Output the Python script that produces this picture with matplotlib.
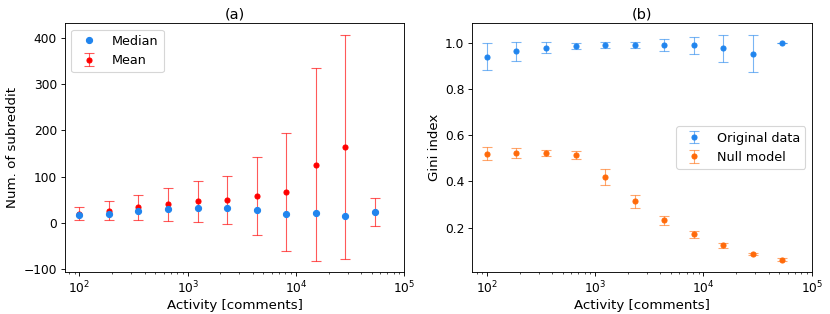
import numpy as np
import matplotlib.pyplot as plt

# activity bins (comments)
activity = [100, 187, 351, 658, 1233, 2310, 4329, 8111, 15199, 28480, 53367]

# panel (a)
median = [16.5, 20, 26, 29.5, 33, 33, 29, 20, 22, 14, 24]
mean = [20, 26.5, 33.5, 40.7, 47, 50, 58, 66.7, 126, 164.5, 24]
mean_err = [14.5, 20.5, 27.5, 35.7, 44, 52, 85, 127, 208, 242.5, 31]

# panel (b)
gini_orig = [0.940, 0.962, 0.979, 0.987, 0.990, 0.991, 0.990, 0.989, 0.975, 0.953, 1.000]
gini_orig_err = [0.060, 0.040, 0.024, 0.013, 0.013, 0.013, 0.027, 0.037, 0.060, 0.082, 0.0]
gini_null = [0.520, 0.522, 0.523, 0.514, 0.418, 0.313, 0.232, 0.171, 0.123, 0.085, 0.062]
gini_null_err = [0.028, 0.021, 0.014, 0.019, 0.034, 0.027, 0.020, 0.014, 0.010, 0.005, 0.006]

blue = '#2185ee'
orange = '#ff6a0a'

plt.rcParams['font.size'] = 11
plt.rcParams['axes.labelsize'] = 12
plt.rcParams['axes.titlesize'] = 13
plt.rcParams['legend.fontsize'] = 11.5

fig = plt.figure(figsize=(830 / 80, 314 / 80), dpi=80)
ax1 = fig.add_axes([0.078, 0.133, 0.409, 0.793])
ax2 = fig.add_axes([0.569, 0.133, 0.409, 0.793])

# (a)
ax1.errorbar(activity, mean, yerr=mean_err, fmt='o', color='red', ms=4.5,
             ecolor=(1, 0, 0, 0.65), elinewidth=1, capsize=4.5, label='Mean')
ax1.plot(activity, median, 'o', color=blue, ms=5.5, label='Median', zorder=3)
ax1.set_xscale('log')
ax1.set_xlim(73.1, 1e5)
ax1.set_xlabel('Activity [comments]', labelpad=2)
ax1.set_ylabel('Num. of subreddit')
ax1.set_title('(a)', pad=4)
ax1.legend(loc='upper left')

# (b)
ax2.errorbar(activity, gini_orig, yerr=gini_orig_err, fmt='o', color=blue, ms=4.5,
             ecolor=(0.13, 0.52, 0.93, 0.6), elinewidth=1, capsize=4.5, label='Original data')
ax2.errorbar(activity, gini_null, yerr=gini_null_err, fmt='o', color=orange, ms=4.5,
             ecolor=(1, 0.42, 0.04, 0.6), elinewidth=1, capsize=4.5, label='Null model')
ax2.set_xscale('log')
ax2.set_xlim(73.1, 1e5)
ax2.set_xlabel('Activity [comments]', labelpad=2)
ax2.set_ylabel('Gini index')
ax2.set_title('(b)', pad=4)
ax2.legend(loc='center right')

plt.savefig('out.png')
